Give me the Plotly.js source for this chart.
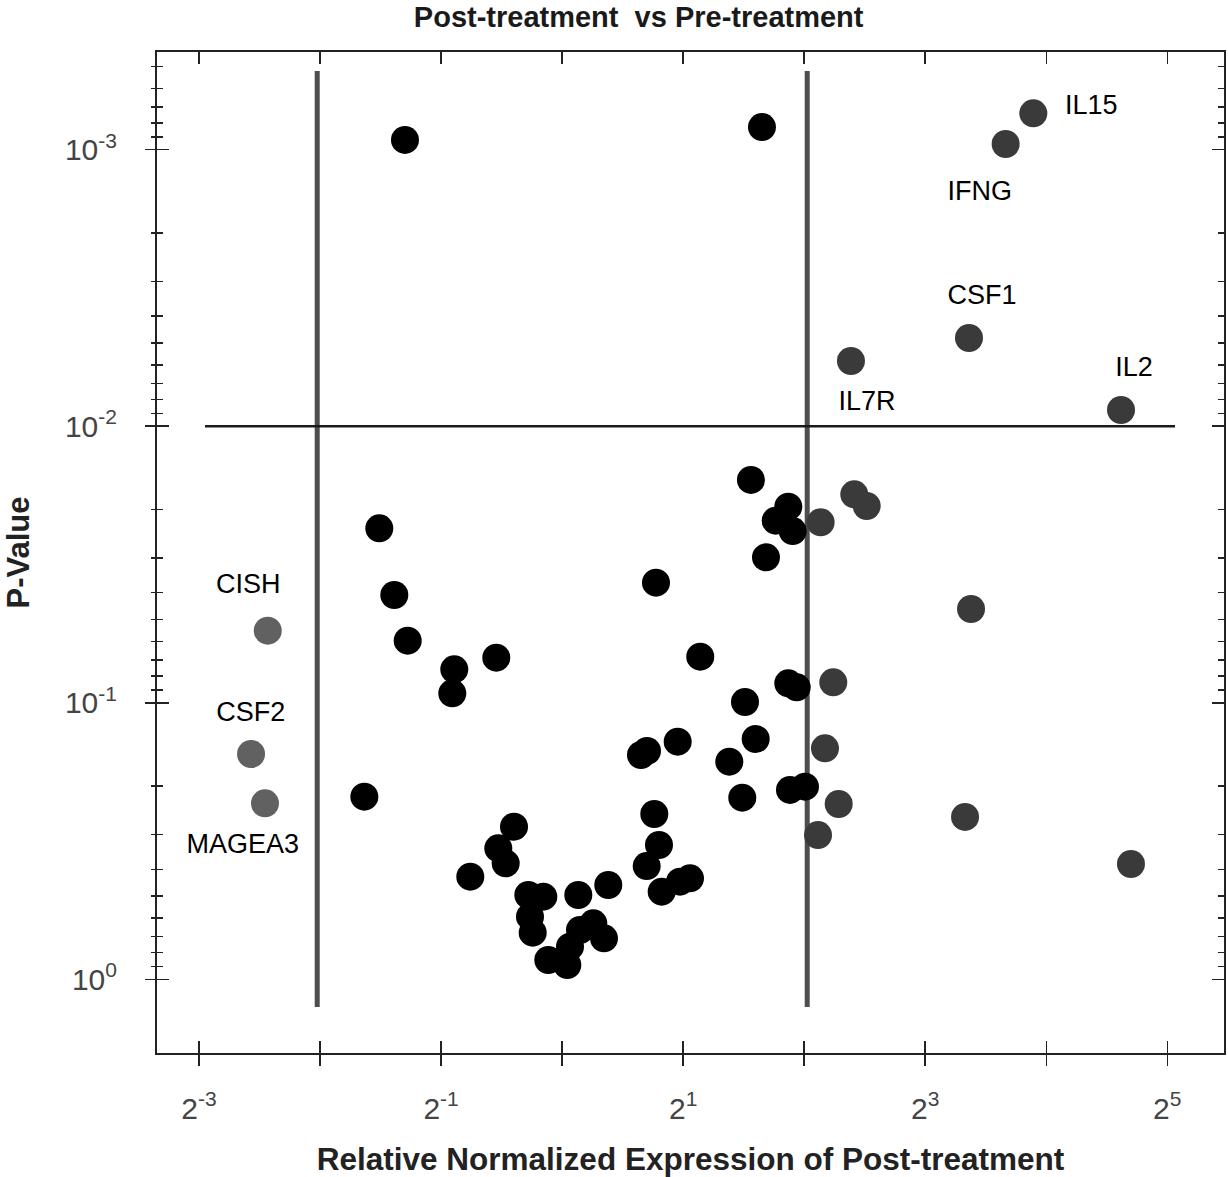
<!DOCTYPE html>
<html>
<head>
<meta charset="utf-8">
<script src="https://cdn.plot.ly/plotly-3.0.1.min.js"></script>
<style>html,body{margin:0;padding:0;background:#fff;}#chart{width:1228px;height:1177px;}</style>
</head>
<body>
<div id="chart"></div>
<script>
// Fold change (relative normalized expression) and p-value
const blackFC = [0.4066, 3.141, 0.3510, 0.3825, 0.4130, 0.5393, 0.5332, 0.6860, 0.3222, 0.7592,
  0.6939, 0.7239, 0.5911, 0.8241, 0.8979, 1.0971, 1.3027, 0.8320, 0.8450, 0.9239,
  1.0301, 1.0462, 1.1078, 1.1955, 1.2710, 2.949, 3.652, 3.398, 3.745, 3.214,
  1.7120, 2.206, 3.652, 3.832, 2.850, 3.030, 2.605, 2.806, 3.688, 4.018,
  1.9384, 1.5711, 1.6259, 1.6954, 1.7416, 1.6232, 1.7687, 1.9641, 2.080];
const blackP = [9.22e-4, 8.28e-4, 0.02339, 0.04076, 0.05964, 0.07568, 0.09243, 0.06871, 0.2186, 0.2807,
  0.3360, 0.3807, 0.4256, 0.4956, 0.5026, 0.4956, 0.4560, 0.5938, 0.6785, 0.8516,
  0.8877, 0.7623, 0.6633, 0.6272, 0.7108, 0.01564, 0.01954, 0.02196, 0.02393, 0.02979,
  0.03679, 0.06814, 0.08503, 0.08791, 0.09936, 0.1352, 0.1633, 0.2204, 0.2067, 0.2011,
  0.1383, 0.1545, 0.1494, 0.2525, 0.3268, 0.3894, 0.4821, 0.4437, 0.4313];

const upFC = [14.857, 12.68, 10.28, 5.229, 24.55, 4.396, 5.329, 5.721, 10.40, 4.725, 4.506, 4.874, 4.330, 10.05, 25.99];
const upP  = [7.385e-4, 9.537e-4, 0.004797, 0.005809, 0.008737, 0.02226, 0.01763, 0.01943, 0.04580, 0.08433, 0.1461, 0.2323, 0.3008, 0.2588, 0.3829];

const downFC = [0.1853, 0.1684, 0.1824];
const downP  = [0.05486, 0.1532, 0.2310];

const labelText = ['IL15', 'IFNG', 'CSF1', 'IL2', 'IL7R', 'CISH', 'CSF2', 'MAGEA3'];
const labelFC   = [20.71, 10.93, 11.07, 26.44, 5.731, 0.1658, 0.1681, 0.1606];
const labelP    = [7.025e-4, 1.438e-3, 3.410e-3, 6.209e-3, 8.241e-3, 0.03783, 0.1098, 0.3315];

// Threshold lines
const fcLow = 0.246, fcHigh = 4.07, pCut = 0.01;
const vLineP = [5.19e-4, 1.26];
const hLineFC = [0.1294, 33.44];

// Tick labels
const xTickVals = [0.125, 0.5, 2, 8, 32];
const xTickText = ['2<sup>-3</sup>', '2<sup>-1</sup>', '2<sup>1</sup>', '2<sup>3</sup>', '2<sup>5</sup>'];
const xMinorVals = [0.25, 1, 4, 16];
const yTickVals = [0.001, 0.01, 0.1, 1];
const yTickText = ['10<sup>-3</sup>', '10<sup>-2</sup>', '10<sup>-1</sup>', '10<sup>0</sup>'];

const yMinor = [];
[-4, -3, -2, -1].forEach(k => { for (let m = 2; m <= 9; m++) yMinor.push(m * Math.pow(10, k)); });

const FONT = '"Liberation Sans", Arial, Helvetica, sans-serif';

const traces = [
  {x: [fcLow, fcLow], y: vLineP, mode: 'lines', line: {color: '#4d4d4d', width: 5}, hoverinfo: 'skip'},
  {x: [fcHigh, fcHigh], y: vLineP, mode: 'lines', line: {color: '#4d4d4d', width: 5}, hoverinfo: 'skip'},
  {x: hLineFC, y: [pCut, pCut], mode: 'lines', line: {color: '#1a1a1a', width: 2.5}, hoverinfo: 'skip'},
  {x: blackFC, y: blackP, mode: 'markers', marker: {size: 28, color: '#000000', line: {width: 0}}},
  {x: upFC, y: upP, mode: 'markers', marker: {size: 28, color: '#3a3a3a', line: {width: 0}}},
  {x: downFC, y: downP, mode: 'markers', marker: {size: 28, color: '#616161', line: {width: 0}}},
  {x: labelFC, y: labelP, text: labelText, mode: 'text', textposition: 'middle center',
   textfont: {family: FONT, size: 27, color: '#000'}, hoverinfo: 'skip'},
  {x: [], y: [], xaxis: 'x2', yaxis: 'y', mode: 'markers', hoverinfo: 'skip'},
  {x: [], y: [], xaxis: 'x', yaxis: 'y2', mode: 'markers', hoverinfo: 'skip'}
];

const xRange = [-1.00755, 1.6462];
const yRange = [0.2665, -3.3533];

const layout = {
  width: 1228, height: 1177,
  margin: {l: 157, r: 4, t: 52, b: 124, pad: 0},
  paper_bgcolor: '#ffffff', plot_bgcolor: '#ffffff',
  showlegend: false,
  font: {family: FONT, color: '#222'},
  title: {
    text: '<b>Post-treatment&nbsp; vs Pre-treatment</b>',
    font: {family: FONT, size: 29, color: '#1a1a1a'},
    xref: 'container', x: 0.337, xanchor: 'left',
    yref: 'container', y: 0.9855, yanchor: 'middle'
  },
  xaxis: {
    type: 'log', range: xRange, tickmode: 'array', tickvals: xTickVals, ticktext: xTickText,
    ticks: 'inside', ticklen: 12, tickwidth: 1.5, tickcolor: '#222', mirror: 'ticks',
    minor: {tickmode: 'array', tickvals: xMinorVals, ticks: 'inside', ticklen: 12, tickwidth: 1.5, tickcolor: '#222', showgrid: false},
    showline: true, linewidth: 2, linecolor: '#222', showgrid: false, zeroline: false,
    tickfont: {family: FONT, size: 30, color: '#444'}, ticklabelstandoff: 28,
    title: {text: '<b>Relative Normalized Expression of Post-treatment</b>', font: {family: FONT, size: 31.5, color: '#222'}, standoff: 26}
  },
  xaxis2: {
    type: 'log', range: xRange, overlaying: 'x', anchor: 'y', side: 'bottom',
    tickmode: 'array', tickvals: xTickVals, ticks: 'outside', ticklen: 12, tickwidth: 1.5, tickcolor: '#222',
    minor: {tickmode: 'array', tickvals: xMinorVals, ticks: 'outside', ticklen: 12, tickwidth: 1.5, tickcolor: '#222', showgrid: false},
    showticklabels: false, showline: false, showgrid: false, zeroline: false
  },
  yaxis: {
    type: 'log', range: yRange, tickmode: 'array', tickvals: yTickVals, ticktext: yTickText,
    ticks: 'inside', ticklen: 12, tickwidth: 1.5, tickcolor: '#222', mirror: 'ticks',
    minor: {tickmode: 'array', tickvals: yMinor, ticks: 'inside', ticklen: 6, tickwidth: 1.5, tickcolor: '#222', showgrid: false},
    showline: true, linewidth: 2, linecolor: '#222', showgrid: false, zeroline: false,
    tickfont: {family: FONT, size: 30, color: '#444'}, ticklabelstandoff: 32,
    title: {text: '<b>P-Value</b>', font: {family: FONT, size: 31, color: '#222'}, standoff: 26}
  },
  yaxis2: {
    type: 'log', range: yRange, overlaying: 'y', anchor: 'x', side: 'left',
    tickmode: 'array', tickvals: yTickVals, ticks: 'outside', ticklen: 11, tickwidth: 1.5, tickcolor: '#222',
    minor: {tickmode: 'array', tickvals: yMinor, ticks: 'outside', ticklen: 5, tickwidth: 1.5, tickcolor: '#222', showgrid: false},
    showticklabels: false, showline: false, showgrid: false, zeroline: false
  }
};

Plotly.newPlot('chart', traces, layout, {staticPlot: true, displayModeBar: false});
</script>
</body>
</html>
